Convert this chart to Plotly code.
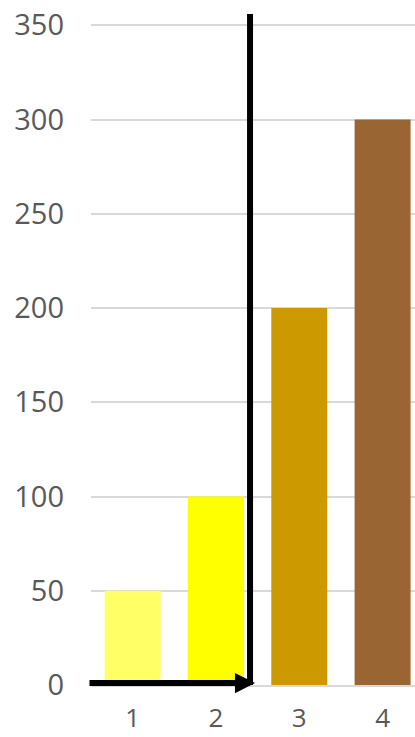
import plotly.graph_objects as go

# Chart data
categories = [1, 2, 3, 4]
values = [50, 100, 200, 300]
bar_colors = ["#FFFF66", "#FFFF00", "#CC9900", "#996633"]
y_ticks = [0, 50, 100, 150, 200, 250, 300, 350]

FONT = "Open Sans"
TICK_COLOR = "#595959"
GRID_COLOR = "#D9D9D9"

fig = go.Figure(
    go.Bar(
        x=categories,
        y=values,
        marker=dict(color=bar_colors, line=dict(width=0)),
        hoverinfo="x+y",
    )
)

# Vertical divider between the second and third bars
fig.add_shape(
    type="line",
    xref="x", yref="y",
    x0=2.409, x1=2.409, y0=0, y1=356,
    line=dict(color="black", width=6),
    layer="above",
)

# Horizontal arrow along the baseline pointing to the divider
fig.add_annotation(
    x=2.469, y=1, ax=0.464, ay=1,
    xref="x", yref="y", axref="x", ayref="y",
    text="",
    showarrow=True,
    arrowhead=2,
    arrowwidth=6,
    arrowsize=0.67,
    arrowcolor="black",
    standoff=0,
)

fig.update_layout(
    width=415,
    height=737,
    margin=dict(l=91, r=0, t=14, b=52),
    paper_bgcolor="white",
    plot_bgcolor="white",
    bargap=0.328,
    showlegend=False,
    font=dict(family=FONT, size=29, color=TICK_COLOR),
    xaxis=dict(
        range=[0.5, 4.389],
        tickmode="array",
        tickvals=categories,
        ticktext=[str(c) for c in categories],
        showgrid=False,
        zeroline=False,
        showline=True,
        linecolor=GRID_COLOR,
        linewidth=1.6,
        ticks="",
        ticklabelstandoff=9,
        automargin=False,
        tickfont=dict(family=FONT, size=26, color=TICK_COLOR),
    ),
    yaxis=dict(
        range=[0, 356],
        tickmode="array",
        tickvals=y_ticks,
        ticktext=[str(t) for t in y_ticks],
        showgrid=True,
        gridcolor=GRID_COLOR,
        gridwidth=1.6,
        zeroline=False,
        showline=False,
        ticks="",
        ticklabelstandoff=26,
        automargin=False,
        tickfont=dict(family=FONT, size=29, color=TICK_COLOR),
    ),
)

fig.write_html("out.html")
